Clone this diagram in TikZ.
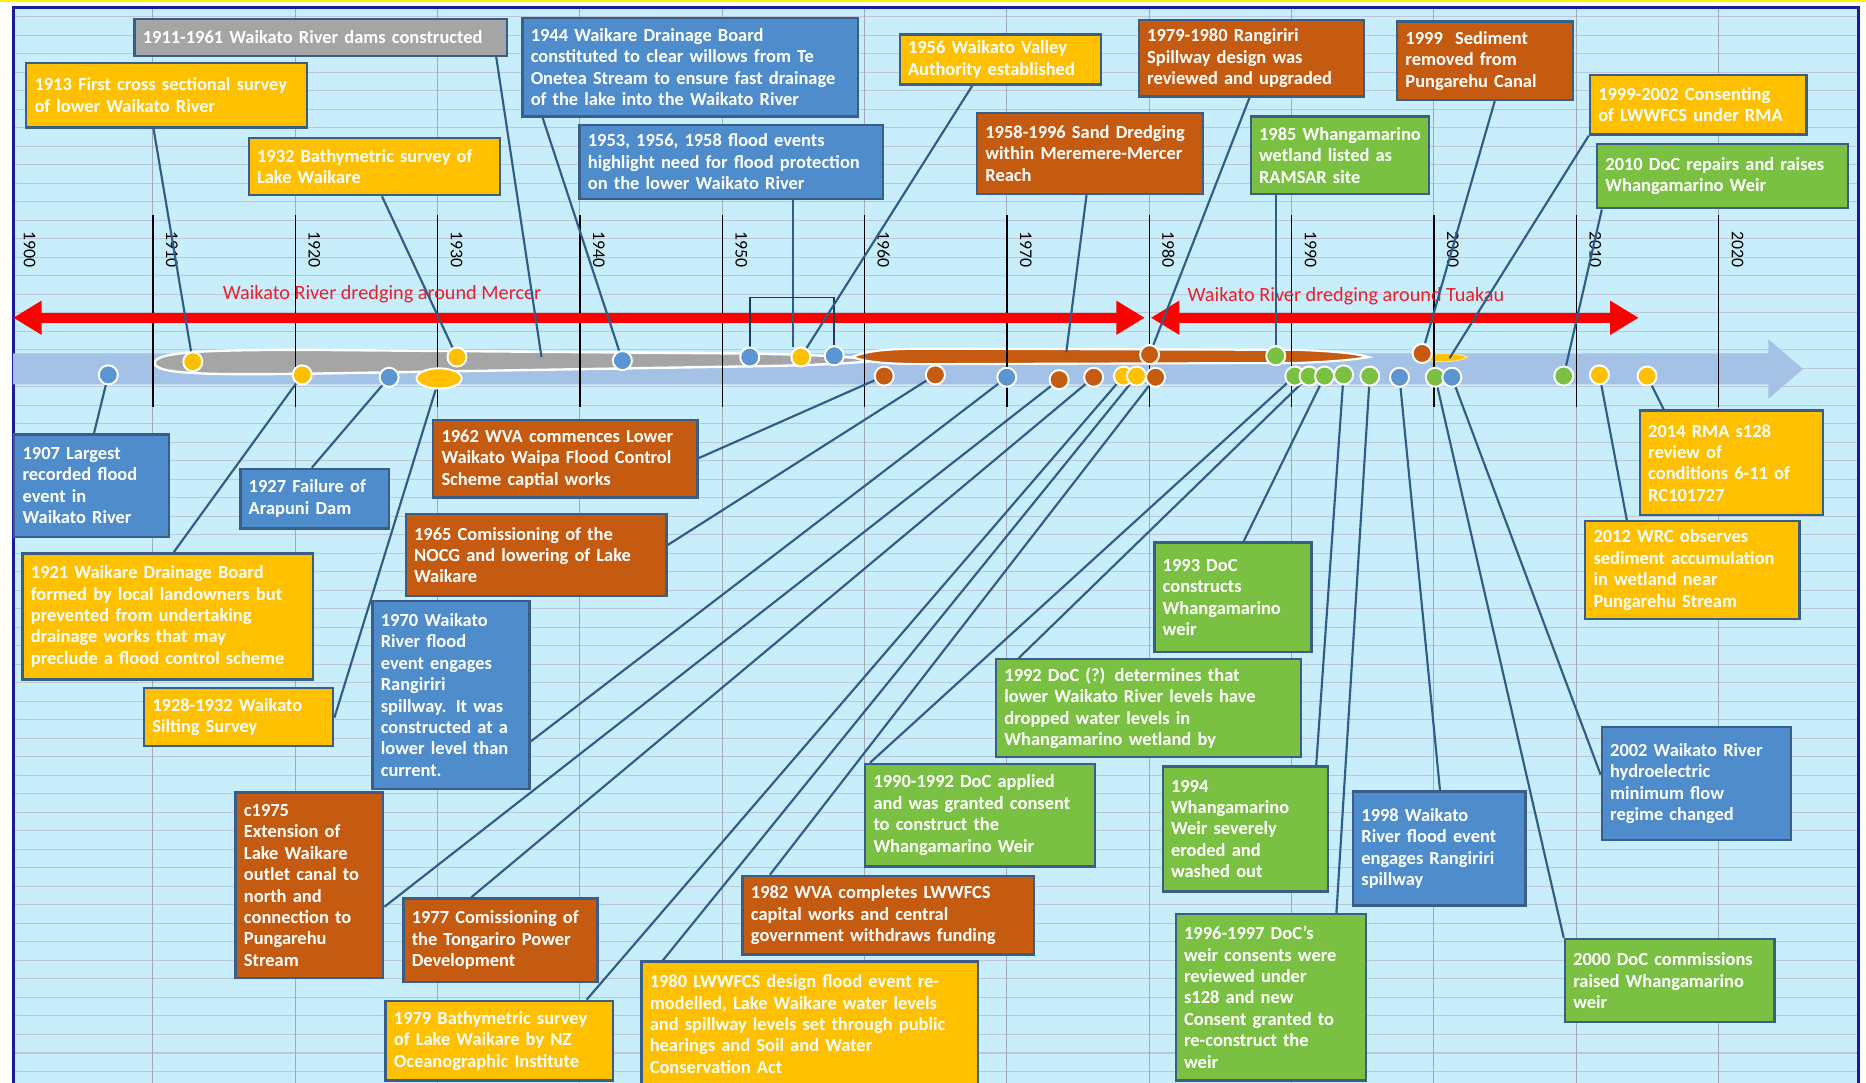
\documentclass[tikz,border=0pt]{standalone}
\usepackage{fontspec}
\setmainfont{Carlito}
\usetikzlibrary{arrows.meta,calc,shapes.geometric}
\definecolor{bgc}{HTML}{C9EEFB}
\definecolor{gridc}{HTML}{BCC8DA}
\definecolor{framec}{HTML}{1A1AA0}
\definecolor{cblue}{HTML}{4E8CCB}
\definecolor{dblue}{HTML}{5B96D2}
\definecolor{corange}{HTML}{C55A11}
\definecolor{cyellow}{HTML}{FFC000}
\definecolor{cgreen}{HTML}{7AC143}
\definecolor{cgrey}{HTML}{A5A5A5}
\definecolor{boxline}{HTML}{3B5E86}
\definecolor{connc}{HTML}{2F5D8A}
\definecolor{tlc}{HTML}{A4C2E6}
\definecolor{redc}{HTML}{FF0000}
\definecolor{redtxt}{HTML}{E8202A}
\definecolor{bracketc}{HTML}{1C3A5E}
\pgfdeclarelayer{back}
\pgfdeclarelayer{lines}
\pgfsetlayers{back,lines,main}
\newcommand\EvFont{\fontsize{15.5}{18}\selectfont\bfseries\hyphenpenalty 10000 \exhyphenpenalty 10000 \hbadness 10000 \hfuzz 20pt }
\newcommand\EvBox[7]{%
  \pgfmathsetmacro\EvW{#5-#3-14}%
  \pgfmathsetmacro\EvH{#6-#4}%
  \node[evt,fill=#2,text width=\EvW pt,minimum height=\EvH pt,anchor=north west] (#1) at (#3,#4) {#7};}
\newcommand\EvDot[4]{\node[dot,fill=#2] (#1) at (#3,#4) {};}
\begin{document}
\begin{tikzpicture}[x=1pt,y=-1pt,
  evt/.style={rectangle,draw=boxline,line width=2pt,text=white,
    font=\EvFont,inner xsep=7pt,inner ysep=3pt,align=left},
  dot/.style={circle,draw=white,line width=1.6pt,minimum size=16pt,inner sep=0pt},
  conn/.style={draw=connc,line width=1.8pt},
  tick/.style={draw=black,line width=1.1pt},
  yearlbl/.style={rotate=-90,font=\fontsize{15}{15}\selectfont,text=black,inner sep=0pt},
  redlbl/.style={font=\fontsize{17}{18}\selectfont,text=redtxt,inner sep=0pt},
  redarrow/.style={draw=redc,line width=8.5pt,{Triangle[length=24pt,width=27pt]}-{Triangle[length=24pt,width=27pt]}}]
\useasboundingbox (0,0) rectangle (1568,910);
\begin{pgfonlayer}{back}
  \fill[white] (0,0) rectangle (1568,910);
  \fill[bgc] (11,6) rectangle (1562,910);
  \foreach \i in {0,...,57} \draw[gridc,line width=0.9pt] (11,{14+15.55*\i}) -- (1562,{14+15.55*\i});
  \foreach \i in {1,...,12} \draw[gridc!85!black,line width=0.8pt] ({8.9+119.6*\i},6) -- ({8.9+119.6*\i},910);
  \draw[yellow,line width=1.5pt] (0,1) -- (1568,1);
  \draw[framec,line width=2.5pt] (11,910) -- (11,6) -- (1562,6) -- (1562,910);
  % timeline arrow
  \fill[tlc] (11,297) -- (1486,297) -- (1486,285) -- (1515,310) -- (1486,335) -- (1486,323) -- (11,323) -- cycle;
  % bands
  \draw[white,line width=2pt,fill=cgrey] (130,305) .. controls (130,295) and (180,294) .. (260,294) -- (620,297) .. controls (690,298) and (720,300) .. (735,303) .. controls (720,305) and (690,307) .. (620,308) -- (260,314) .. controls (180,315) and (130,315) .. (130,305) -- cycle;
  \draw[white,line width=1.8pt,fill=corange] (716,300) .. controls (730,294) and (750,293) .. (780,293) -- (1090,294) .. controls (1120,295) and (1140,297) .. (1150,300) .. controls (1140,302) and (1120,304) .. (1090,305) -- (780,306) .. controls (750,306) and (730,305) .. (716,300) -- cycle;
  \draw[white!50!cyellow,line width=1pt,fill=cyellow] (1196,301) .. controls (1200,296) and (1225,296) .. (1233,300) .. controls (1225,305) and (1200,305) .. (1196,301) -- cycle;
  % ticks and years
  \foreach \i in {1,...,12} \draw[tick] ({8.9+119.6*\i},181) -- ({8.9+119.6*\i},342);
  \foreach \yr [count=\i from 0] in {1900,1910,1920,1930,1940,1950,1960,1970,1980,1990,2000,2010,2020}
    \node[yearlbl] (y\yr) at ({8.9+119.6*\i+16},210) {\yr};
  % red arrows
  \draw[redarrow] (11,267) -- (962,267);
  \draw[redarrow] (967,267) -- (1377,267);
  \node[redlbl] (lMercer) at (321,247) {Waikato River dredging around Mercer};
  \node[redlbl] (lTuakau) at (1131,249) {Waikato River dredging around Tuakau};
\end{pgfonlayer}
% ---------- upper boxes
\EvBox{bDams}{cgrey}{112}{15}{425}{46}{1911-1961 Waikato River dams constructed}
\EvBox{b1913}{cyellow}{21}{52}{257}{106}{1913 First cross sectional survey\\of lower Waikato River}
\EvBox{b1932}{cyellow}{208}{115}{419}{163}{1932 Bathymetric survey of\\Lake Waikare}
\EvBox{b1944}{cblue}{438}{14}{720}{97}{1944 Waikare Drainage Board\\constituted to clear willows from Te\\Onetea Stream to ensure fast drainage\\of the lake into the Waikato River}
\EvBox{b1953}{cblue}{486}{104}{741}{166}{1953, 1956, 1958 flood events\\highlight need for flood protection\\on the lower Waikato River}
\EvBox{b1956}{cyellow}{755}{28}{924}{70}{1956 Waikato Valley\\Authority established}
\EvBox{b5896}{corange}{820}{94}{1010}{162}{1958-1996 Sand Dredging\\within Meremere-Mercer\\Reach}
\EvBox{b7980}{corange}{956}{16}{1145}{80}{1979-1980 Rangiriri\\Spillway design was\\reviewed and upgraded}
\EvBox{b1999}{corange}{1173}{17}{1321}{83}{1999~ Sediment\\removed from\\Pungarehu Canal}
\EvBox{b1985}{cgreen}{1050}{97}{1200}{162}{1985~Whangamarino\\wetland listed as\\RAMSAR site}
\EvBox{bCons}{cyellow}{1335}{62}{1517}{112}{1999-2002 Consenting\\of LWWFCS under RMA}
\EvBox{b2010}{cgreen}{1341}{120}{1552}{174}{2010 DoC repairs and raises\\Whangamarino Weir}
% ---------- lower boxes
\EvBox{b1907}{cblue}{11}{364}{141}{450}{1907 Largest\\recorded flood\\event in\\Waikato River}
\EvBox{b1927}{cblue}{201}{393}{326}{443}{1927 Failure of\\Arapuni Dam}
\EvBox{b1921}{cyellow}{18}{464}{262}{570}{1921 Waikare Drainage Board\\formed by local landowners but\\prevented from undertaking\\drainage works that may\\preclude a flood control scheme}
\EvBox{b1928}{cyellow}{120}{577}{279}{626}{1928-1932 Waikato\\Silting Survey}
\EvBox{b1962}{corange}{363}{352}{585}{417}{1962 WVA commences Lower\\Waikato Waipa Flood Control\\Scheme captial works}
\EvBox{b1965}{corange}{340}{431}{559}{500}{1965 Comissioning of the\\NOCG and lowering of Lake\\Waikare}
\EvBox{b1970}{cblue}{312}{504}{444}{662}{1970 Waikato\\River flood\\event engages\\Rangiriri\\spillway. It was\\constructed at a\\lower level than\\current.}
\EvBox{bc1975}{corange}{197}{665}{321}{821}{c1975\\Extension of\\Lake Waikare\\outlet canal to\\north and\\connection to\\Pungarehu\\Stream}
\EvBox{b1977}{corange}{338}{754}{501}{824}{1977 Comissioning of\\the Tongariro Power\\Development}
\EvBox{b1979}{cyellow}{323}{840}{514}{907}{1979 Bathymetric survey\\of Lake Waikare by NZ\\Oceanographic Institute}
\EvBox{b1980}{cyellow}{538}{807}{821}{912}{1980 LWWFCS design flood event re-\\modelled, Lake Waikare water levels\\and spillway levels set through public\\hearings and Soil and Water\\Conservation Act}
\EvBox{b1982}{corange}{623}{735}{868}{801}{1982 WVA completes LWWFCS\\capital works and central\\government withdraws funding}
\EvBox{b9092}{cgreen}{726}{641}{919}{727}{1990-1992 DoC applied\\and was granted consent\\to construct the\\Whangamarino Weir}
\EvBox{b1992}{cgreen}{836}{553}{1092}{635}{1992 DoC (?) determines that\\lower Waikato River levels have\\dropped water levels in\\Whangamarino wetland by}
\EvBox{b1993}{cgreen}{969}{455}{1101}{547}{1993 DoC\\constructs\\Whangamarino\\weir}
\EvBox{b1994}{cgreen}{976}{643}{1115}{748}{1994\\Whangamarino\\Weir severely\\eroded and\\washed out}
\EvBox{b9697}{cgreen}{987}{767}{1147}{907}{1996-1997 DoC's\\weir consents were\\reviewed under\\s128 and new\\Consent granted to\\re-construct the\\weir}
\EvBox{b1998}{cblue}{1136}{664}{1281}{760}{1998 Waikato\\River flood event\\engages Rangiriri\\spillway}
\EvBox{b2002}{cblue}{1345}{610}{1504}{705}{2002 Waikato River\\hydroelectric\\minimum flow\\regime changed}
\EvBox{b2000}{cgreen}{1314}{788}{1490}{858}{2000 DoC commissions\\raised Whangamarino\\weir}
\EvBox{b2014}{cyellow}{1377}{344}{1531}{432}{2014 RMA s128\\review of\\conditions 6-11 of\\RC101727}
\EvBox{b2012}{cyellow}{1331}{437}{1511}{519}{2012 WRC observes\\sediment accumulation\\in wetland near\\Pungarehu Stream}
% ---------- band end points
\coordinate (cDams) at (455,300);
\coordinate (cSand) at (896,296);
\coordinate (cCons) at (1218,301);
\coordinate (bkA) at (630,250);
% ---------- bullets
\EvDot{d1907}{dblue}{91}{315}
\EvDot{d1913}{cyellow}{162}{304}
\EvDot{d1921}{cyellow}{254}{315}
\EvDot{d1927}{dblue}{327}{317}
\node[ellipse,draw=white,line width=1.6pt,fill=cyellow,minimum width=38pt,minimum height=17pt,inner sep=0pt] (d1928) at (369,318) {};
\EvDot{d1932}{cyellow}{384}{300}
\EvDot{d1944}{dblue}{523}{303}
\EvDot{d1953}{dblue}{630}{300}
\EvDot{d1956}{cyellow}{673}{300}
\EvDot{d1958}{dblue}{701}{299}
\EvDot{d1962}{corange}{743}{316}
\EvDot{d1965}{corange}{786}{315}
\EvDot{d1970}{dblue}{846}{317}
\EvDot{dc1975}{corange}{890}{319}
\EvDot{d1977}{corange}{919}{317}
\EvDot{d1979}{cyellow}{944}{316}
\EvDot{d1980}{cyellow}{955}{316}
\EvDot{d7980}{corange}{966}{298}
\EvDot{d1982}{corange}{971}{317}
\EvDot{d1985}{cgreen}{1072}{299}
\EvDot{d9092}{cgreen}{1088}{316}
\EvDot{d1992}{cgreen}{1100}{316}
\EvDot{d1993}{cgreen}{1113}{316}
\EvDot{d1994}{cgreen}{1129}{315}
\EvDot{d9697}{cgreen}{1151}{316}
\EvDot{d1998}{dblue}{1176}{317}
\EvDot{d1999}{corange}{1195}{297}
\EvDot{d2000}{cgreen}{1206}{317}
\EvDot{d2002}{dblue}{1220}{317}
\EvDot{d2010}{cgreen}{1314}{316}
\EvDot{d2012}{cyellow}{1344}{315}
\EvDot{d2014}{cyellow}{1384}{316}
% ---------- connectors
\begin{pgfonlayer}{lines}
  \draw[conn] ($(bDams.south west)+(305,0)$) -- (cDams);
  \draw[conn] ($(b1913.south west)+(108,0)$) -- (d1913);
  \draw[conn] ($(b1932.south west)+(113,0)$) -- (d1932);
  \draw[conn] ($(b1944.south west)+(18,0)$) -- (d1944);
  \draw[conn] ($(b1953.south west)+(180,0)$) coordinate (p53) -- (p53 |- d1956.north);
  \draw[bracketc,line width=1.5pt] (d1953.north) -- (bkA) -| (d1958.north);
  \draw[conn] ($(b1956.south west)+(62,0)$) -- (d1956);
  \draw[conn] ($(b5896.south west)+(93,0)$) -- (cSand);
  \draw[conn] ($(b7980.south west)+(94,0)$) -- (d7980);
  \draw[conn] ($(b1985.south west)+(22,0)$) -- (d1985);
  \draw[conn] ($(b1999.south west)+(83,0)$) -- (d1999);
  \draw[conn] (bCons.south west) -- (cCons);
  \draw[conn] ($(b2010.south west)+(5,0)$) -- (d2010);
  \draw[conn] ($(b1907.north west)+(68,0)$) -- (d1907);
  \draw[conn] ($(b1927.north west)+(61,0)$) -- (d1927);
  \draw[conn] ($(b1921.north west)+(128,0)$) -- (d1921);
  \draw[conn] ($(b1928.north east)+(0,26)$) -- (d1928);
  \draw[conn] ($(b1962.north east)+(0,33)$) -- (d1962);
  \draw[conn] ($(b1965.north east)+(0,27)$) -- (d1965);
  \draw[conn] ($(b1970.north east)+(0,119)$) -- (d1970);
  \draw[conn] ($(bc1975.north east)+(0,97)$) -- (dc1975);
  \draw[conn] ($(b1977.north west)+(58,0)$) -- (d1977);
  \draw[conn] ($(b1979.north west)+(170,0)$) -- (d1979);
  \draw[conn] ($(b1980.north west)+(19,0)$) -- (d1980);
  \draw[conn] ($(b1982.north west)+(24,0)$) -- (d1982);
  \draw[conn] ($(b9092.north west)+(5,0)$) -- (d9092);
  \draw[conn] ($(b1992.north west)+(20,0)$) -- (d1992);
  \draw[conn] ($(b1993.north west)+(76,0)$) -- (d1993);
  \draw[conn] ($(b1994.north west)+(130,0)$) -- (d1994);
  \draw[conn] ($(b9697.north west)+(136,0)$) -- (d9697);
  \draw[conn] ($(b1998.north west)+(74,0)$) -- (d1998);
  \draw[conn] ($(b2002.north west)+(0,41)$) -- (d2002);
  \draw[conn] (b2000.north west) -- (d2000);
  \draw[conn] ($(b2014.north west)+(21,0)$) -- (d2014);
  \draw[conn] ($(b2012.north west)+(36,0)$) -- (d2012);
\end{pgfonlayer}
\end{tikzpicture}
\end{document}
